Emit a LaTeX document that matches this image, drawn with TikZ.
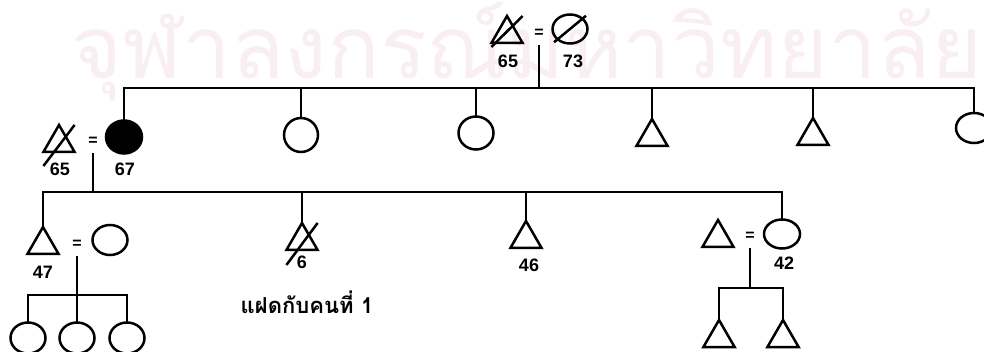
\documentclass[tikz,border=0pt]{standalone}
\usepackage{fontspec}
\setmainfont{Liberation Sans}
\newfontfamily\thaifont[Script=Thai]{Loma}
\usetikzlibrary{shapes.geometric}
\definecolor{wmark}{RGB}{249,238,244}

\begin{document}
\begin{tikzpicture}[x=1pt,y=-1pt,line width=2.5pt,
	male/.style={draw,regular polygon,regular polygon sides=3,minimum size=36pt,inner sep=0pt,outer sep=0pt},
	female/.style={draw,ellipse,minimum width=35pt,minimum height=31pt,inner sep=0pt,outer sep=0pt},
	marry/.style={font=\bfseries\fontsize{16}{16}\selectfont,inner sep=0pt,minimum height=21pt},
	age/.style={font=\bfseries\fontsize{18}{18}\selectfont,inner sep=0pt}]
	\useasboundingbox (0,0) rectangle (984,352);
	\node[text=wmark,inner sep=0pt] (wm) at (527,52) {\resizebox{910pt}{!}{\thaifont จุฬาลงกรณ์มหาวิทยาลัย}};
	% grandparents
	\node[male] (g1m) at (507,34) {};
	\node[marry] (g1e) at (539,33) {=};
	\node[female,minimum height=29pt] (g1f) at (570,29) {};
	\node[age] (a1) at (508,61) {65};
	\node[age] (a2) at (573,61) {73};
	\draw ([yshift=-4pt]g1m.corner 2) -- (g1m.corner 3 |- g1m.corner 1);
	\draw[shorten <=2pt,shorten >=2pt] (g1f.west |- g1f.south) -- (g1f.east |- g1f.north);
	\coordinate (b1) at (539,88);
	\draw (g1e.south) -- (b1);
	% parents and their siblings
	\node[male] (g2m) at (59,143) {};
	\node[marry] (g2e) at (93,141) {=};
	\node[female,fill,minimum width=36pt,minimum height=33pt] (g2f) at (124,137) {};
	\node[female,minimum width=34pt,minimum height=34pt] (c2) at (301,135) {};
	\node[female,minimum height=33pt] (c3) at (476,133) {};
	\node[male] (c4) at (652,137) {};
	\node[male] (c5) at (813,136) {};
	\node[female,minimum width=36pt,minimum height=30pt] (c6) at (974,128) {};
	\node[age] (a3) at (60,169) {65};
	\node[age] (a4) at (125,169) {67};
	\draw ([yshift=-14pt]g2m.corner 2) -- (g2m.corner 3 |- g2m.corner 1);
	\draw (g2f.north) |- (b1) -| (c6.north);
	\foreach \c in {c2,c3,c4,c5}
		\draw (\c.north) -- (\c.north |- b1);
	% children
	\coordinate (b2) at (93,192);
	\draw (g2e.south) -- (b2);
	\node[male] (d1) at (43,245) {};
	\node[marry] (d1e) at (77,244) {=};
	\node[female,minimum height=30pt] (d1w) at (110,240) {};
	\node[male] (d2) at (302,241) {};
	\node[male] (d3) at (526,239) {};
	\node[male] (d4h) at (718,238) {};
	\node[marry] (d4e) at (750,236) {=};
	\node[female,minimum width=36pt,minimum height=29pt] (d4) at (782,234) {};
	\node[age] (a5) at (43,272) {47};
	\node[age] (a6) at (302,262) {6};
	\node[age] (a7) at (529,265) {46};
	\node[age] (a8) at (784,263) {42};
	\node[font=\thaifont\bfseries\fontsize{22}{22}\selectfont,inner sep=0pt] (twin) at (307,302) {แฝดกับคนที่ 1};
	\draw ([yshift=-15pt]d2.corner 2) -- (d2.corner 3 |- d2.corner 1);
	\draw (d1.north) |- (b2) -| (d4.north);
	\foreach \c in {d2,d3}
		\draw (\c.north) -- (\c.north |- b2);
	% grandchildren
	\coordinate (b3) at (77,295);
	\node[female] (e1) at (28,338) {};
	\node[female] (e2) at (77,338) {};
	\node[female] (e3) at (127,338) {};
	\draw (d1e.south) -- (e2.north);
	\draw (e1.north) |- (b3) -| (e3.north);
	\coordinate (b4) at (750,288);
	\node[male] (e4) at (719,338) {};
	\node[male] (e5) at (783,338) {};
	\draw (d4e.south) -- (b4);
	\draw (e4.north) |- (b4) -| (e5.north);
\end{tikzpicture}
\end{document}
